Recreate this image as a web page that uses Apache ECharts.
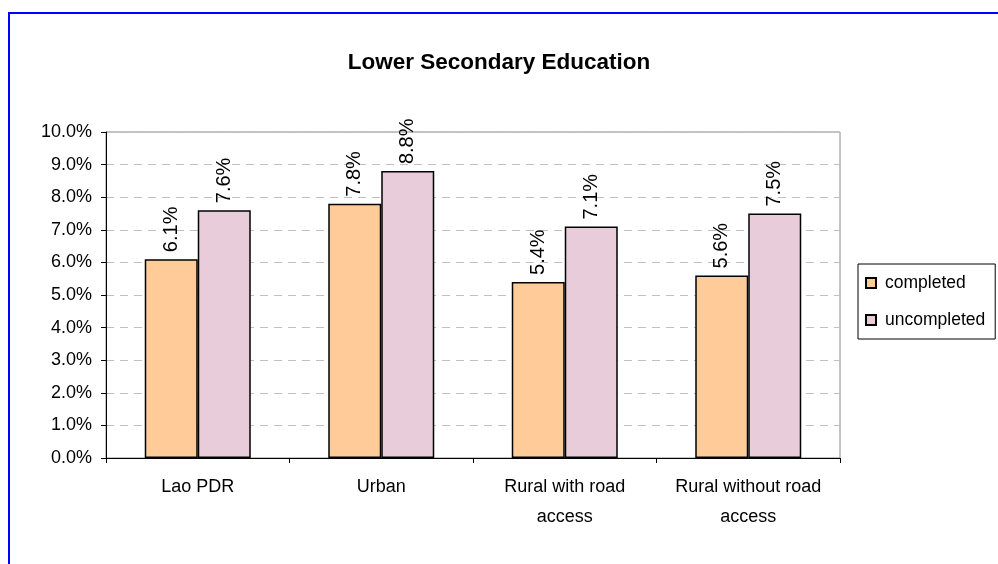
<!DOCTYPE html>
<html>
<head>
<meta charset="utf-8">
<script src="https://cdn.jsdelivr.net/npm/echarts@6/dist/echarts.min.js"></script>
<style>
  html, body { margin: 0; padding: 0; background: #fff; }
  #chart { width: 998px; height: 564px; }
</style>
</head>
<body>
<div id="chart"></div>
<script>
// Share of population by area, lower secondary education
const categories = ['Lao PDR', 'Urban', 'Rural with road\naccess', 'Rural without road\naccess'];
const completed = [6.1, 7.8, 5.4, 5.6];
const uncompleted = [7.6, 8.8, 7.1, 7.5];
const yTicks = [0, 1, 2, 3, 4, 5, 6, 7, 8, 9, 10];

const chart = echarts.init(document.getElementById('chart'), null, { renderer: 'canvas' });
const font = 'Liberation Sans, Arial, sans-serif';
const pct = v => Number(v).toFixed(1) + '%';

const valueLabel = {
  show: true,
  position: 'top',
  rotate: 90,
  align: 'left',
  verticalAlign: 'middle',
  distance: 7,
  fontFamily: font,
  fontSize: 20,
  color: '#000',
  formatter: p => pct(p.value)
};

chart.setOption({
  animation: false,
  backgroundColor: '#fff',
  title: {
    text: 'Lower Secondary Education',
    left: 'center',
    top: 46,
    textStyle: { fontFamily: font, fontSize: 22.5, fontWeight: 'bold', color: '#000' }
  },
  graphic: [{
    type: 'polyline',
    shape: { points: [[9, 564], [9, 13], [998, 13]] },
    style: { stroke: '#0000ff', lineWidth: 2, fill: null }
  }],
  legend: {
    orient: 'vertical',
    left: 858,
    top: 264,
    itemWidth: 10,
    itemHeight: 10,
    itemGap: 19,
    padding: [10, 10, 10, 7],
    borderColor: '#000',
    borderWidth: 1,
    icon: 'rect',
    textStyle: { fontFamily: font, fontSize: 17.5, color: '#000', padding: [0, 0, 0, 4] },
    data: ['completed', 'uncompleted']
  },
  grid: {
    left: 106, right: 158, top: 132, bottom: 106,
    show: true, borderColor: '#888', borderWidth: 1
  },
  xAxis: {
    type: 'category',
    data: categories,
    axisLine: { lineStyle: { color: '#000', width: 1 } },
    axisTick: { show: true, interval: 0, length: 5, alignWithLabel: false, lineStyle: { color: '#000' } },
    axisLabel: { interval: 0, fontFamily: font, fontSize: 18, color: '#000', margin: 14, lineHeight: 30 },
    splitLine: { show: false }
  },
  yAxis: {
    type: 'value',
    min: yTicks[0],
    max: yTicks[yTicks.length - 1],
    interval: 1,
    axisLine: { show: true, lineStyle: { color: '#000', width: 1 } },
    axisTick: { show: true, length: 5, lineStyle: { color: '#000' } },
    axisLabel: { fontFamily: font, fontSize: 18, color: '#000', margin: 14, formatter: v => pct(v) },
    splitLine: { show: true, lineStyle: { color: '#c0c0c0', type: [8, 6], width: 1 } }
  },
  series: [
    {
      name: 'completed',
      type: 'bar',
      data: completed,
      barWidth: 53,
      barGap: '0%',
      itemStyle: { color: '#FFCC99', borderColor: '#000', borderWidth: 1.5 },
      label: valueLabel
    },
    {
      name: 'uncompleted',
      type: 'bar',
      data: uncompleted,
      barWidth: 53,
      barGap: '0%',
      itemStyle: { color: '#E8CCDA', borderColor: '#000', borderWidth: 1.5 },
      label: valueLabel
    }
  ]
});
</script>
</body>
</html>
